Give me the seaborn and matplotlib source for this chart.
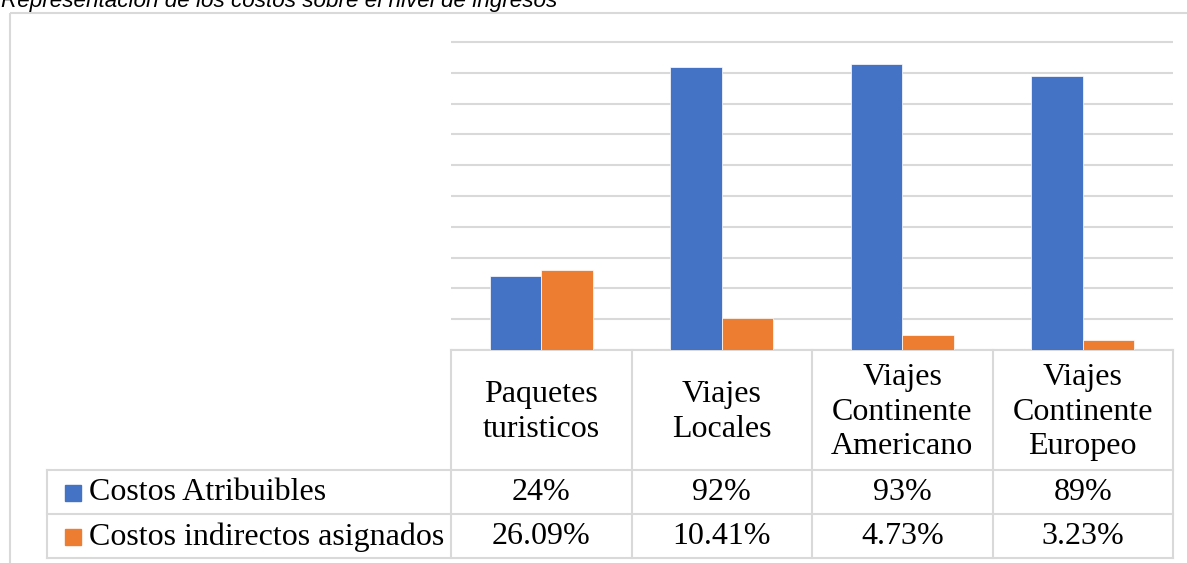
import numpy as np
import pandas as pd
import matplotlib.pyplot as plt
import seaborn as sns
from matplotlib.patches import Rectangle

# datos del grafico
categorias = ['Paquetes\nturisticos', 'Viajes\nLocales',
              'Viajes\nContinente\nAmericano', 'Viajes\nContinente\nEuropeo']
series = ['Costos Atribuibles', 'Costos indirectos asignados']
costos_atribuibles = [24, 92, 93, 89]
costos_indirectos = [26.09, 10.41, 4.73, 3.23]
etiquetas_atribuibles = ['24%', '92%', '93%', '89%']
etiquetas_indirectos = ['26.09%', '10.41%', '4.73%', '3.23%']
colores = ['#4472C4', '#ED7D31']
titulo = 'Representación de los costos sobre el nivel de ingresos'

if __name__ == '__main__':

    df = pd.DataFrame({
        'categoria': categorias * 2,
        'serie': [series[0]] * 4 + [series[1]] * 4,
        'valor': costos_atribuibles + costos_indirectos,
    })

    W, H = 1187, 563
    fig = plt.figure(figsize=(W / 100, H / 100), dpi=100)
    gris = '#d9d9d9'

    # layout in pixels
    plot_l, plot_r, plot_bot = 451, 1173, 350
    top_100 = 42
    ax_top = 39
    row_hdr, row_1, row_2 = 470, 514, 558
    leg_l = 47

    # overlay axes in pixel coords for title, frame and table
    over = fig.add_axes([0, 0, 1, 1])
    over.set_xlim(0, W)
    over.set_ylim(H, 0)
    over.axis('off')

    over.add_patch(Rectangle((10, 13), W + 50, H + 50, fill=False,
                             edgecolor=gris, linewidth=1.5))
    over.text(1, 7, titulo, fontstyle='italic', family='Liberation Sans',
              fontsize=16.2, va='baseline', ha='left', color='black')

    # bars
    ax = fig.add_axes([plot_l / W, 1 - plot_bot / H,
                       (plot_r - plot_l) / W, (plot_bot - ax_top) / H])
    ax.patch.set_alpha(0)
    sns.barplot(data=df, x='categoria', y='valor', hue='serie',
                palette=colores, saturation=1, width=0.57, ax=ax,
                legend=False, edgecolor='white', linewidth=0.5)
    ax.set_xlim(-0.5, len(categorias) - 0.5)
    ax.set_ylim(0, 100 * (plot_bot - ax_top) / (plot_bot - top_100))
    ax.set_yticks(np.arange(0, 101, 10))
    ax.set_axisbelow(True)
    ax.yaxis.grid(True, color=gris, linewidth=1.5)
    ax.tick_params(left=False, bottom=False, labelleft=False, labelbottom=False)
    for s in ax.spines.values():
        s.set_visible(False)
    ax.set(xlabel=None, ylabel=None)

    # data table
    xs = np.linspace(plot_l, plot_r, len(categorias) + 1)
    over.plot([plot_l, plot_r], [plot_bot, plot_bot], color=gris, lw=1.5)
    for y in [row_hdr, row_1, row_2]:
        over.plot([leg_l, plot_r], [y, y], color=gris, lw=1.5)
    for x in xs:
        over.plot([x, x], [plot_bot, row_2], color=gris, lw=1.5)
    over.plot([leg_l, leg_l], [row_hdr, row_2], color=gris, lw=1.5)

    txt = dict(family='Liberation Serif', fontsize=23, color='black')
    centros = (xs[:-1] + xs[1:]) / 2
    for cx, cat, a, b in zip(centros, categorias, etiquetas_atribuibles,
                             etiquetas_indirectos):
        over.text(cx, (plot_bot + row_hdr) / 2 + 2, cat, ha='center',
                  va='center', linespacing=1.27, **txt)
        over.text(cx, (row_hdr + row_1) / 2 + 1, a, ha='center', va='center', **txt)
        over.text(cx, (row_1 + row_2) / 2 + 1, b, ha='center', va='center', **txt)

    for (y0, y1), nombre, c in zip([(row_hdr, row_1), (row_1, row_2)], series, colores):
        yc = (y0 + y1) / 2
        over.add_patch(Rectangle((65, yc - 7.5), 16, 16, color=c))
        over.text(89, yc + 1, nombre, ha='left', va='center', **txt)

    fig.savefig('out.png', dpi=100)
